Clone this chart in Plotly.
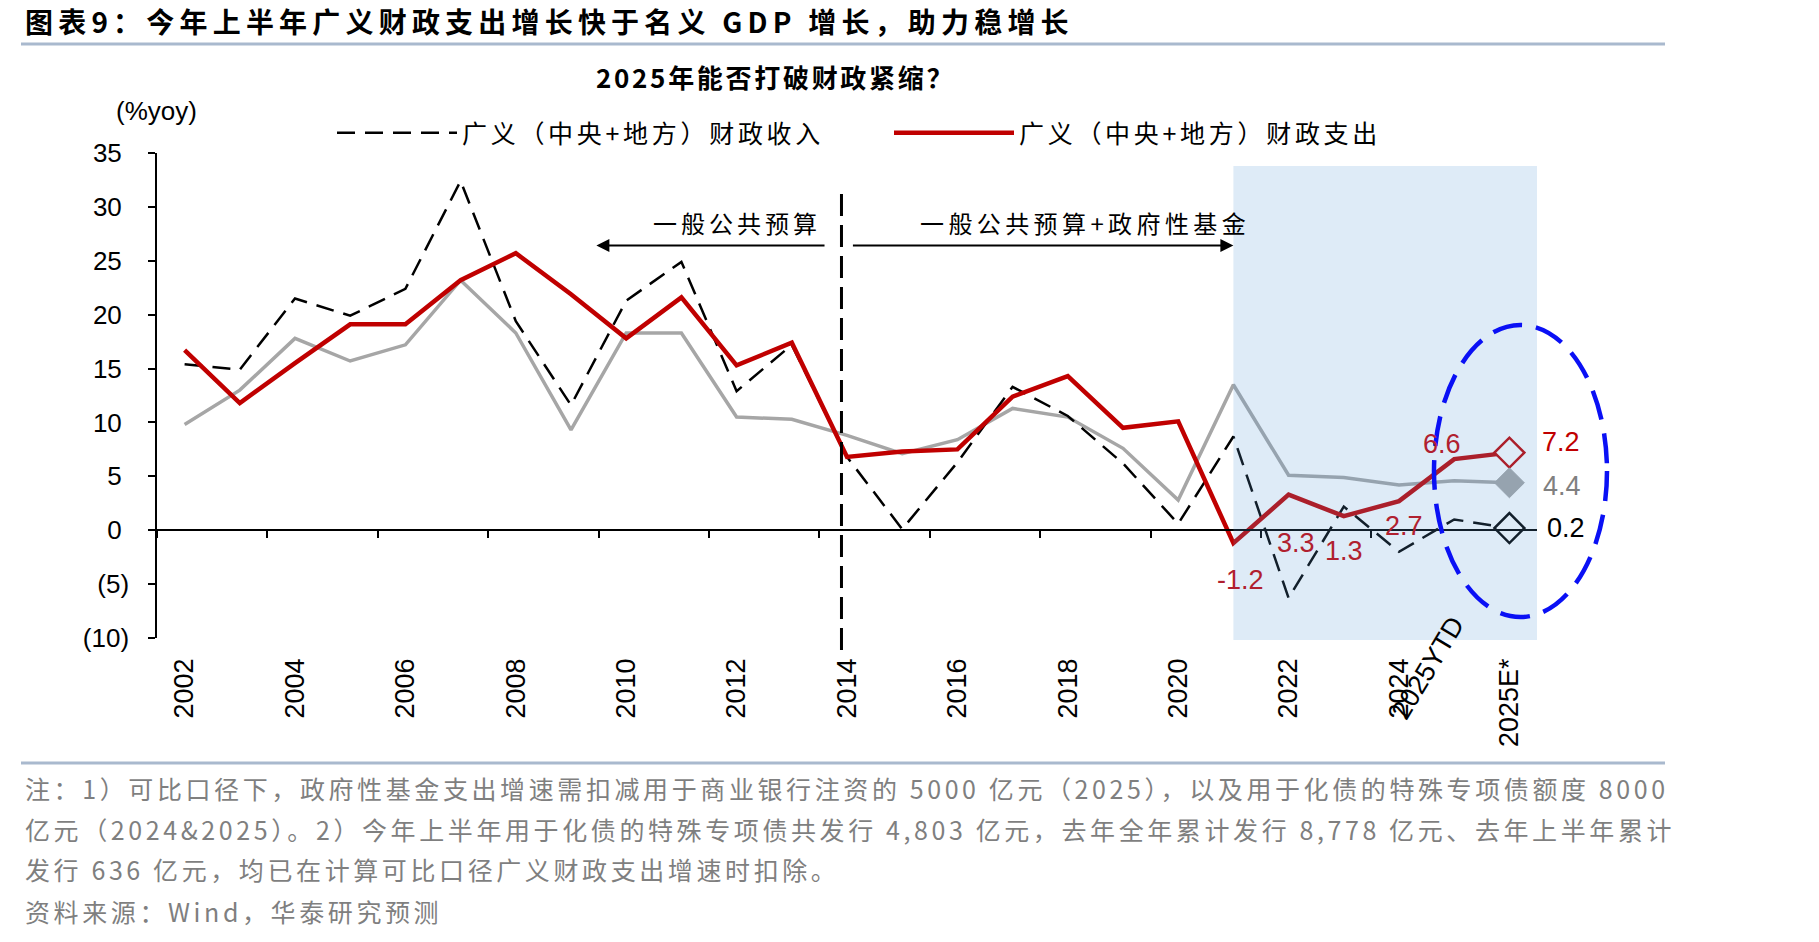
import plotly.graph_objects as go

# ---------------- data ----------------
categories = [str(y) for y in range(2002, 2025)] + ["2025YTD", "2025E*"]
revenue = [15.4, 14.9, 21.5, 19.9, 22.4, 32.4, 19.4, 11.6, 21.3, 24.9, 12.9, 17.2,
           6.8, 0.1, 6.3, 13.3, 10.6, 6.2, 0.6, 8.7, -6.3, 2.2, -2.0, 1.0, 0.2]
expenditure = [16.7, 11.8, 15.5, 19.1, 19.1, 23.2, 25.7, 21.9, 17.8, 21.6, 15.3, 17.4,
               6.8, 7.3, 7.5, 12.4, 14.3, 9.5, 10.1, -1.2, 3.3, 1.3, 2.7, 6.6, 7.2]
nominal_gdp = [9.8, 13.0, 17.8, 15.7, 17.2, 23.2, 18.3, 9.3, 18.3, 18.3, 10.5, 10.3,
               8.8, 7.1, 8.4, 11.3, 10.5, 7.6, 2.8, 13.5, 5.1, 4.9, 4.2, 4.6, 4.4]
y_tickvals = [-10, -5, 0, 5, 10, 15, 20, 25, 30, 35]
y_ticktext = ["(10)", "(5)", "0", "5", "10", "15", "20", "25", "30", "35"]
legend_names = ["广义（中央+地方）财政收入", "广义（中央+地方）财政支出"]

W, H = 1819, 942
L, R, T, B = 157, 282, 153, 304
PW, PH = W - L - R, H - T - B
def px(x, y):
    return (x - L) / PW, (H - B - y) / PH

def spaced(text, ls):
    return f'<span style="letter-spacing:{ls}px">{text}</span>'

idx = list(range(len(categories)))
n = len(categories)

ARIAL = "Liberation Sans, Arial, sans-serif"
CJK = "Noto Sans CJK SC, sans-serif"

fig = go.Figure()
fig.add_trace(go.Scatter(x=idx, y=nominal_gdp, mode="lines", line=dict(color="#A6A6A6", width=3.5),
                         showlegend=False, hoverinfo="skip"))
fig.add_trace(go.Scatter(x=idx, y=revenue, mode="lines", name=spaced(legend_names[0], 3.7),
                         line=dict(color="#000000", width=2.5, dash="18px,10px")))
fig.add_trace(go.Scatter(x=idx, y=expenditure, mode="lines", name=spaced(legend_names[1], 3.7),
                         line=dict(color="#C00000", width=4.5)))
# end markers
fig.add_trace(go.Scatter(x=[idx[-1]], y=[expenditure[-1]], mode="markers", showlegend=False,
                         marker=dict(symbol="diamond", size=23, color="white",
                                     line=dict(color="#C00000", width=2.5))))
fig.add_trace(go.Scatter(x=[idx[-1]], y=[nominal_gdp[-1]], mode="markers", showlegend=False,
                         marker=dict(symbol="diamond", size=23, color="#A6A6A6",
                                     line=dict(color="#A6A6A6", width=1))))
fig.add_trace(go.Scatter(x=[idx[-1]], y=[revenue[-1]], mode="markers", showlegend=False,
                         marker=dict(symbol="diamond", size=23, color="white",
                                     line=dict(color="#000000", width=2.5))))
# dummy trace for the zero-line axis
fig.add_trace(go.Scatter(x=[None], y=[None], xaxis="x2", showlegend=False, hoverinfo="skip"))

tick_idx = [i for i in idx if i % 2 == 0]
# positive labels get a punctuation-space pad, like Excel's "_)" number format
y_ticklabels = [t if t.startswith("(") else t + "\u2008" for t in y_ticktext]
fig.update_layout(
    width=W, height=H, autosize=False,
    margin=dict(l=L, r=R, t=T, b=B),
    paper_bgcolor="white", plot_bgcolor="white",
    font=dict(family=ARIAL, color="black"),
    xaxis=dict(range=[-0.5, n - 0.5], showline=False, showgrid=False, zeroline=False,
               tickvals=tick_idx, ticktext=[categories[i] for i in tick_idx],
               tickangle=-90, ticks="", tickfont=dict(size=27, family=ARIAL),
               ticklabelstandoff=14),
    xaxis2=dict(overlaying="x", anchor="free", position=10 / 45, range=[-0.5, n - 0.5],
                showline=True, linecolor="black", linewidth=2, ticks="outside", ticklen=7,
                tickwidth=1.5, tickcolor="black", tickvals=[i - 0.5 for i in idx if i % 2 == 0 and i < n - 1],
                showticklabels=False, showgrid=False, zeroline=False),
    yaxis=dict(range=[-10, 35], tickvals=y_tickvals, ticktext=y_ticklabels, showline=True,
               linecolor="black", linewidth=1.5, ticks="outside", ticklen=7, tickwidth=1.5,
               tickcolor="black", showgrid=False, zeroline=False,
               tickfont=dict(size=26, family=ARIAL), ticklabelstandoff=14),
    legend=dict(orientation="h", x=px(332, 0)[0], y=px(0, 133)[1], xanchor="left", yanchor="middle",
                itemwidth=120, entrywidth=422, entrywidthmode="pixels",
                font=dict(size=25, family=CJK, color="black"), bgcolor="rgba(0,0,0,0)"),
)

shapes = []
# shaded forecast region (semi-transparent, above lines)
shapes.append(dict(type="rect", xref="x", yref="paper", x0=19, x1=n - 0.5,
                   y0=px(0, 640)[1], y1=px(0, 166)[1], fillcolor="rgba(91,155,213,0.2)",
                   line=dict(width=0), layer="above"))
# vertical dashed separator
shapes.append(dict(type="line", xref="x", yref="paper", x0=11.9, x1=11.9,
                   y0=px(0, 650)[1], y1=px(0, 186)[1], line=dict(color="black", width=3, dash="22px,9px")))
# blue dashed ellipse
ex0, ey0 = px(1434, 325)
ex1, ey1 = px(1607, 617)
shapes.append(dict(type="circle", xref="paper", yref="paper", x0=ex0, x1=ex1, y0=ey1, y1=ey0,
                   line=dict(color="#0A10F5", width=4.5, dash="30px,14px")))
# header / footer rules
for yy in (44, 763):
    a0, b0 = px(21, yy)
    a1, _ = px(1665, yy)
    shapes.append(dict(type="line", xref="paper", yref="paper", x0=a0, x1=a1, y0=b0, y1=b0,
                       line=dict(color="#A9B9CE", width=3)))
fig.update_layout(shapes=shapes)

ann = []
def text_at(x, y, text, size, color="black", family=ARIAL, anchor="center", bold=False, angle=0, ls=0):
    xp, yp = px(x, y)
    t = f"<b>{text}</b>" if bold else text
    if ls:
        t = spaced(t, ls)
    ann.append(dict(xref="paper", yref="paper", x=xp, y=yp, text=t,
                    showarrow=False, xanchor=anchor, yanchor="middle", textangle=angle,
                    font=dict(size=size, color=color, family=family)))

text_at(23, 21, "图表9：今年上半年广义财政支出增长快于名义 GDP 增长，助力稳增长", 28, family=CJK,
        anchor="left", bold=True, ls=5.2)
text_at(775, 77, "2025年能否打破财政紧缩？", 26, family=CJK, bold=True, ls=2.7)
text_at(156, 111, "(%yoy)", 26)
text_at(737, 222, "一般公共预算", 24, family=CJK, ls=4)
text_at(1085, 222, "一般公共预算+政府性基金", 24, family=CJK, ls=4.4)
text_at(1428, 668, categories[23], 27, angle=-59)

notes = [
    "注：1）可比口径下，政府性基金支出增速需扣减用于商业银行注资的 5000 亿元（2025），以及用于化债的特殊专项债额度 8000",
    "亿元（2024&2025）。2）今年上半年用于化债的特殊专项债共发行 4,803 亿元，去年全年累计发行 8,778 亿元、去年上半年累计",
    "发行 636 亿元，均已在计算可比口径广义财政支出增速时扣除。",
    "资料来源：Wind，华泰研究预测",
]
for t, yy in zip(notes, [788, 829, 869, 911]):
    text_at(23, yy, t, 25, color="#7F7F7F", family=CJK, anchor="left", ls=3.6)

# arrows
y_arrow = (530 - 245.5) / 10.77
ann.append(dict(x=7.46, y=y_arrow, ax=11.62, ay=y_arrow, xref="x", yref="y", axref="x", ayref="y",
                text="", showarrow=True, arrowhead=2, arrowsize=1.3, arrowwidth=2, arrowcolor="black"))
ann.append(dict(x=19.0, y=y_arrow, ax=12.08, ay=y_arrow, xref="x", yref="y", axref="x", ayref="y",
                text="", showarrow=True, arrowhead=2, arrowsize=1.3, arrowwidth=2, arrowcolor="black"))

# data labels
tint = "#B0202F"
label_specs = [  # (series, index, color, xshift, yshift)
    (expenditure, 19, tint, 7, -37),
    (expenditure, 20, tint, 7, -48),
    (expenditure, 21, tint, 0, -35),
    (expenditure, 22, tint, 5, -25),
    (expenditure, 23, tint, -12, 15),
    (expenditure, 24, "#C00000", 52, 11),
    (nominal_gdp, 24, "#808080", 53, -3),
    (revenue, 24, "#000000", 57, 0),
]
for ser, i, col, xs, ys in label_specs:
    ann.append(dict(x=i, y=ser[i], xref="x", yref="y", text=f"{ser[i]:.1f}", showarrow=False,
                    xshift=xs, yshift=ys, font=dict(size=27, color=col, family=ARIAL)))

fig.update_layout(annotations=ann)
fig.write_html("out.html")
